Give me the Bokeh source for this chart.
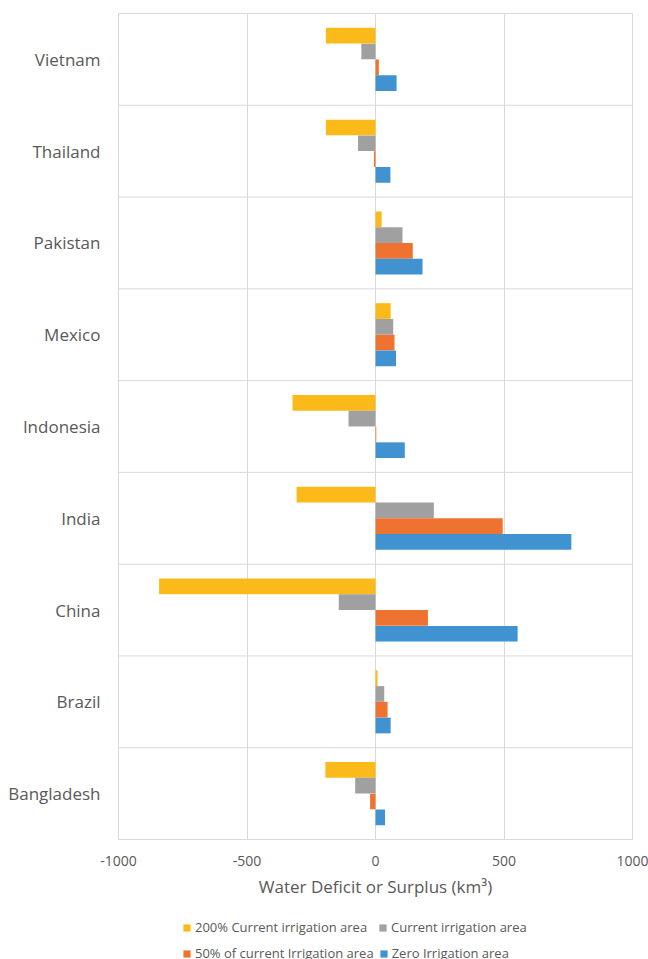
import numpy as np
from bokeh.plotting import figure
from bokeh.layouts import column
from bokeh.models import FactorRange, Range1d, Span, Legend, LegendItem, FixedTicker, ColumnDataSource
from bokeh.transform import dodge
from bokeh.embed import file_html
from bokeh.resources import INLINE

# ---- data ----
countries = ["Bangladesh", "Brazil", "China", "India", "Indonesia",
             "Mexico", "Pakistan", "Thailand", "Vietnam"]
irr_200 = [-195, 8, -842, -307, -323, 59, 24, -193, -193]
irr_current = [-79, 34, -143, 227, -105, 69, 105, -68, -55]
irr_half = [-21, 47, 204, 495, 3, 74, 145, -6, 13]
irr_zero = [37, 59, 553, 762, 114, 80, 183, 58, 82]
series_names = ["200% Current irrigation area", "Current irrigation area",
                "50% of current Irrigation area", "Zero Irrigation area"]
x_ticks = [-1000, -500, 0, 500, 1000]
x_tick_labels = ["-1000", "-500", "0", "500", "1000"]
x_title = "Water Deficit or Surplus (km\u00b3)"

# ---- style ----
FONT = "Open Sans"
TXT = "#595959"
GRID = "#D9D9D9"
colors = ["#FBBA1A", "#A0A0A0", "#EF7330", "#4192D0"]
offsets = [0.258, 0.086, -0.086, -0.258]
bar_h = 0.171

src = ColumnDataSource(dict(country=countries, s0=irr_200, s1=irr_current,
                            s2=irr_half, s3=irr_zero))

p = figure(width=648, height=905, output_backend="svg", toolbar_location=None,
           y_range=FactorRange(factors=countries, range_padding=0, factor_padding=0),
           x_range=Range1d(x_ticks[0], x_ticks[-1]),
           min_border_left=118, min_border_right=16, min_border_top=13,
           min_border_bottom=66)
p.background_fill_color = "white"
p.border_fill_color = "white"
p.outline_line_color = GRID
p.outline_line_width = 1

for i, name in enumerate(series_names):
    p.hbar(y=dodge("country", offsets[i], range=p.y_range), left=0,
           right="s%d" % i, height=bar_h, source=src,
           fill_color=colors[i], line_color=None)

# category separators
for k in range(len(countries) + 1):
    p.add_layout(Span(location=k, dimension="width", line_color=GRID, line_width=1,
                      level="underlay"))

p.ygrid.grid_line_color = None
p.xgrid.grid_line_color = GRID
p.xgrid.ticker = FixedTicker(ticks=x_ticks)
p.xgrid.level = "underlay"

xa = p.xaxis[0]
xa.ticker = FixedTicker(ticks=x_ticks)
xa.major_label_overrides = {t: l for t, l in zip(x_ticks, x_tick_labels)}
xa.axis_line_color = None
xa.major_tick_line_color = None
xa.minor_tick_line_color = None
xa.major_tick_out = 0
xa.major_label_standoff = 16
xa.major_label_text_font = FONT
xa.major_label_text_font_size = "14px"
xa.major_label_text_color = TXT
xa.axis_label = x_title
xa.axis_label_text_font = FONT
xa.axis_label_text_font_size = "17px"
xa.axis_label_text_font_style = "normal"
xa.axis_label_text_color = TXT
xa.axis_label_standoff = 6

ya = p.yaxis[0]
ya.axis_line_color = None
ya.major_tick_line_color = None
ya.major_tick_out = 0
ya.major_label_standoff = 18
ya.major_label_text_font = FONT
ya.major_label_text_font_size = "17px"
ya.major_label_text_color = TXT

# ---- legend strip (frame aligned with the chart's frame by the column layout) ----
lp = figure(width=648, height=54, output_backend="svg", toolbar_location=None,
            x_range=Range1d(0, 1), y_range=Range1d(0, 1),
            x_axis_location=None, y_axis_location=None,
            min_border_left=0, min_border_right=0, min_border_top=0, min_border_bottom=0)
lp.outline_line_color = None
lp.grid.grid_line_color = None
lp.border_fill_color = "white"
lp.background_fill_color = "white"

nan = np.array([np.nan])
swatches = [lp.hbar(y=nan, left=nan, right=nan, height=1, fill_color=c, line_color=None)
            for c in colors]
items = [LegendItem(label=n, renderers=[r]) for n, r in zip(series_names, swatches)]
for row, loc in ((items[0:2], (64, 22)), (items[2:4], (64, -4))):
    lg = Legend(items=row, orientation="horizontal", location=loc)
    lg.label_text_font = FONT
    lg.label_text_font_size = "13px"
    lg.label_text_color = TXT
    lg.glyph_width = 9
    lg.glyph_height = 9
    lg.label_standoff = 4
    lg.label_height = 20
    lg.label_width = 178
    lg.spacing = 5
    lg.padding = 0
    lg.margin = 0
    lg.border_line_color = None
    lg.background_fill_alpha = 0
    lp.add_layout(lg, "center")

layout = column(p, lp, spacing=0)
open("out.html", "w").write(file_html(layout, INLINE))
